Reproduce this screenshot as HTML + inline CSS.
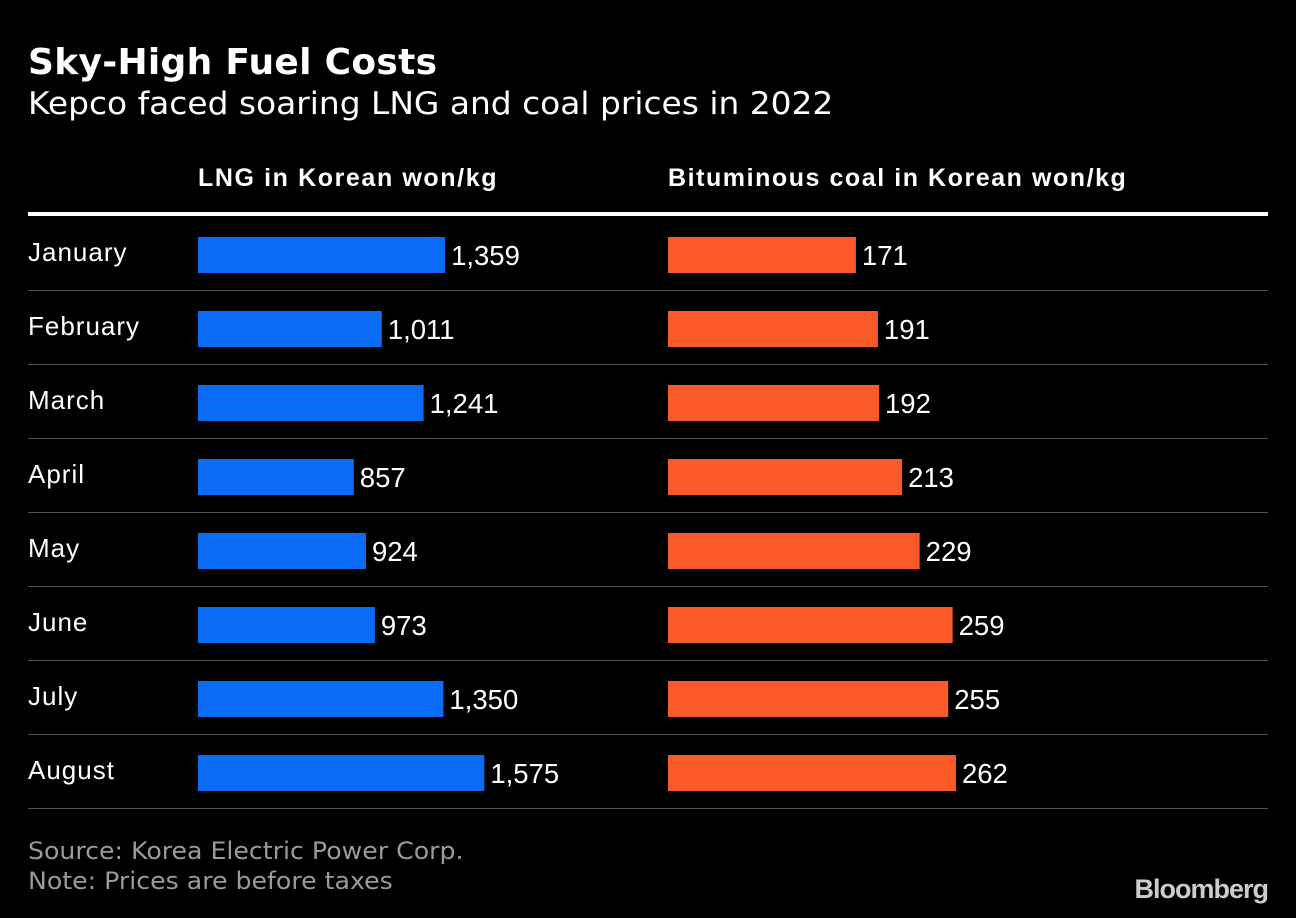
<!DOCTYPE html>
<html><head><meta charset="utf-8">
<style>
html,body{margin:0;padding:0;background:#000;}
body{width:1296px;height:918px;position:relative;overflow:hidden;font-family:"Liberation Sans",sans-serif;color:#fff;}
.abs{position:absolute;white-space:nowrap;}
</style></head>
<body>
<div class="abs" style="left:28px;top:42px;font-size:36px;font-weight:bold;font-family:'DejaVu Sans',sans-serif;letter-spacing:0.3px;">Sky-High Fuel Costs</div>
<div class="abs" style="left:28px;top:86px;font-size:31px;font-family:'DejaVu Sans',sans-serif;font-weight:normal;transform:scaleX(1.06);transform-origin:left;">Kepco faced soaring LNG and coal prices in 2022</div>
<svg id="chart" width="1296" height="918" style="position:absolute;left:0;top:0"></svg>
<div class="abs" style="left:28px;top:837px;font-size:24px;color:#9a9a9a;font-family:'DejaVu Sans',sans-serif;transform:scaleX(1.05);transform-origin:left;">Source: Korea Electric Power Corp.</div>
<div class="abs" style="left:28px;top:867px;font-size:24px;color:#9a9a9a;font-family:'DejaVu Sans',sans-serif;transform:scaleX(1.05);transform-origin:left;">Note: Prices are before taxes</div>
<div class="abs" style="right:28px;top:874px;font-size:27px;font-weight:bold;color:#ccc;letter-spacing:-1px;">Bloomberg</div>
<script>
const months = ["January","February","March","April","May","June","July","August"];
const lngValues = [1359,1011,1241,857,924,973,1350,1575];
const coalValues = [171,191,192,213,229,259,255,262];
const ns="http://www.w3.org/2000/svg";
const svg=document.getElementById('chart');
function mk(t,a){const e=document.createElementNS(ns,t);for(const k in a)e.setAttribute(k,a[k]);svg.appendChild(e);return e;}
const lngX=v=>198+v*0.1818;
const coalX=v=>668+v*1.099;
const rowY=i=>255+i*74;
const fmt=v=>v.toLocaleString('en-US');
let h=mk('text',{x:198,y:186,'font-size':25,'font-weight':'bold',fill:'#fff','letter-spacing':'1.6','font-family':'Liberation Sans, sans-serif'});h.textContent='LNG in Korean won/kg';


h=mk('text',{x:668,y:186,'font-size':25,'font-weight':'bold',fill:'#fff','letter-spacing':'1.55','font-family':'Liberation Sans, sans-serif'});h.textContent='Bituminous coal in Korean won/kg';


let l=mk('rect',{x:28,y:212,width:1240,height:4,fill:'#fff'});


months.forEach((m,i)=>{
  const y=rowY(i);
  let t=mk('text',{x:28,y:y+6,'font-size':26,fill:'#fff','letter-spacing':'1','font-family':'Liberation Sans, sans-serif'});t.textContent=m;
  
  
  let b=mk('rect',{x:198,y:y-18,width:lngX(lngValues[i])-198,height:36,fill:'#0a6cf5'});
  
  
  t=mk('text',{x:lngX(lngValues[i])+6,y:y+10,'font-size':27.5,fill:'#fff','font-family':'Liberation Sans, sans-serif'});t.textContent=fmt(lngValues[i]);
  
  
  b=mk('rect',{x:668,y:y-18,width:coalX(coalValues[i])-668,height:36,fill:'#f95a28'});
  
  
  t=mk('text',{x:coalX(coalValues[i])+6,y:y+10,'font-size':27.5,fill:'#fff','font-family':'Liberation Sans, sans-serif'});t.textContent=fmt(coalValues[i]);
  
  
  const s=mk('rect',{x:28,y:y+35,width:1240,height:1,fill:'#555'});
  
  
});
</script>
</body></html>
